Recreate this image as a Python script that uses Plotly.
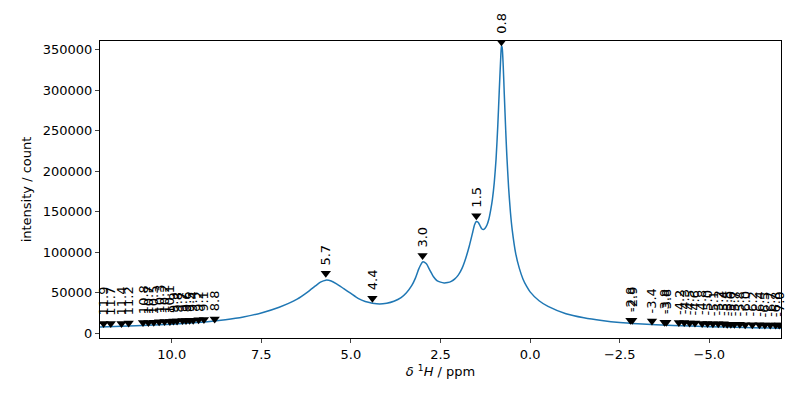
import plotly.graph_objects as go

ppm = [12.0, 11.0, 10.0, 9.0, 8.5, 8.0, 7.5, 7.0, 6.5, 6.2, 6.0, 5.85, 5.7, 5.55, 5.4, 5.2, 5.0, 4.8, 4.6, 4.4, 4.2, 4.0, 3.8, 3.6, 3.45, 3.3, 3.2, 3.1, 3.0, 2.9, 2.8, 2.7, 2.6, 2.5, 2.4, 2.3, 2.2, 2.1, 2.0, 1.9, 1.8, 1.7, 1.6, 1.55, 1.5, 1.45, 1.4, 1.35, 1.3, 1.25, 1.2, 1.15, 1.1, 1.05, 1.0, 0.95, 0.9, 0.86, 0.82, 0.8, 0.78, 0.75, 0.72, 0.68, 0.65, 0.6, 0.55, 0.5, 0.4, 0.3, 0.2, 0.1, 0.0, -0.25, -0.5, -1.0, -1.5, -2.0, -2.5, -3.0, -4.0, -5.0, -6.0, -7.0]
intensity = [7500, 9000, 11000, 14000, 16500, 20000, 25000, 32000, 42000, 51000, 58000, 63000, 65500, 64500, 61000, 55000, 49000, 43000, 39000, 37000, 36000, 37000, 39500, 44000, 50000, 59000, 68000, 80000, 88000, 86000, 78000, 70000, 65000, 63000, 62000, 62500, 64000, 67000, 72000, 80000, 92000, 107000, 125000, 134000, 138000, 137000, 133000, 129000, 128000, 130000, 134000, 141000, 152000, 166000, 186000, 215000, 258000, 300000, 340000, 355000, 353000, 330000, 295000, 250000, 220000, 180000, 150000, 128000, 98000, 80000, 67000, 58000, 51000, 40000, 33000, 24000, 19000, 15500, 13000, 11500, 9500, 8000, 7000, 6000]

peak_pos = [11.9, 11.7, 11.4, 11.2, 10.8, 10.65, 10.5, 10.35, 10.2, 10.05, 9.95, 9.85, 9.7, 9.6, 9.5, 9.4, 9.25, 9.1, 8.8,
            5.7, 4.4, 3.0, 1.5, 0.8,
            -2.8, -2.85, -3.4, -3.75, -3.8, -4.15, -4.3, -4.45, -4.6, -4.8, -4.95, -5.1, -5.25, -5.4, -5.5, -5.6, -5.7, -5.85, -6.0, -6.2, -6.4, -6.55, -6.7, -6.85, -6.95]
peak_int = [12000, 12000, 12000, 12500, 13000, 13000, 13500, 14000, 14500, 14500, 15000, 15000, 15500, 15500, 16000, 16000, 16500, 17000, 17500,
            74000, 43000, 96000, 145000, 360000,
            16000, 16000, 15000, 13500, 13500, 13000, 13000, 12500, 12500, 12000, 12000, 11500, 11500, 11500, 11000, 11000, 11000, 11000, 10500, 10500, 10500, 10000, 10000, 10000, 10000]
peak_label = [f"{p:.1f}" for p in peak_pos]

fig = go.Figure()
fig.add_trace(go.Scatter(x=ppm, y=intensity, mode="lines", line=dict(color="#1f77b4", width=1.5, shape="spline", smoothing=0.6)))
fig.add_trace(go.Scatter(x=peak_pos, y=peak_int, mode="markers", marker=dict(symbol="triangle-down", color="black", size=9)))
for p, h, t in zip(peak_pos, peak_int, peak_label):
    fig.add_annotation(x=p, y=h, text=t, textangle=-90, showarrow=False, yanchor="bottom", yshift=6,
                       font=dict(size=13, color="black"))

axis = dict(showline=True, linecolor="black", mirror=True, ticks="outside", showgrid=False, zeroline=False,
            tickfont=dict(size=13, color="black"), ticklen=4, automargin=False)
fig.update_layout(width=800, height=400, margin=dict(l=92, r=27, t=33, b=70), showlegend=False,
                  plot_bgcolor="white", paper_bgcolor="white", font=dict(family="DejaVu Sans", color="black"),
                  xaxis=dict(axis, range=[12.0, -7.0], tickvals=[10, 7.5, 5, 2.5, 0, -2.5, -5],
                             ticktext=["10.0", "7.5", "5.0", "2.5", "0.0", "−2.5", "−5.0"],
                             title=dict(text="<i>δ</i> <sup>1</sup><i>H</i> / ppm", font=dict(size=13), standoff=6)),
                  yaxis=dict(axis, range=[-6000, 361000], tickvals=[0, 50000, 100000, 150000, 200000, 250000, 300000, 350000],
                             tickformat="d", title=dict(text="intensity / count", font=dict(size=13), standoff=8)))
fig.write_html("out.html")
